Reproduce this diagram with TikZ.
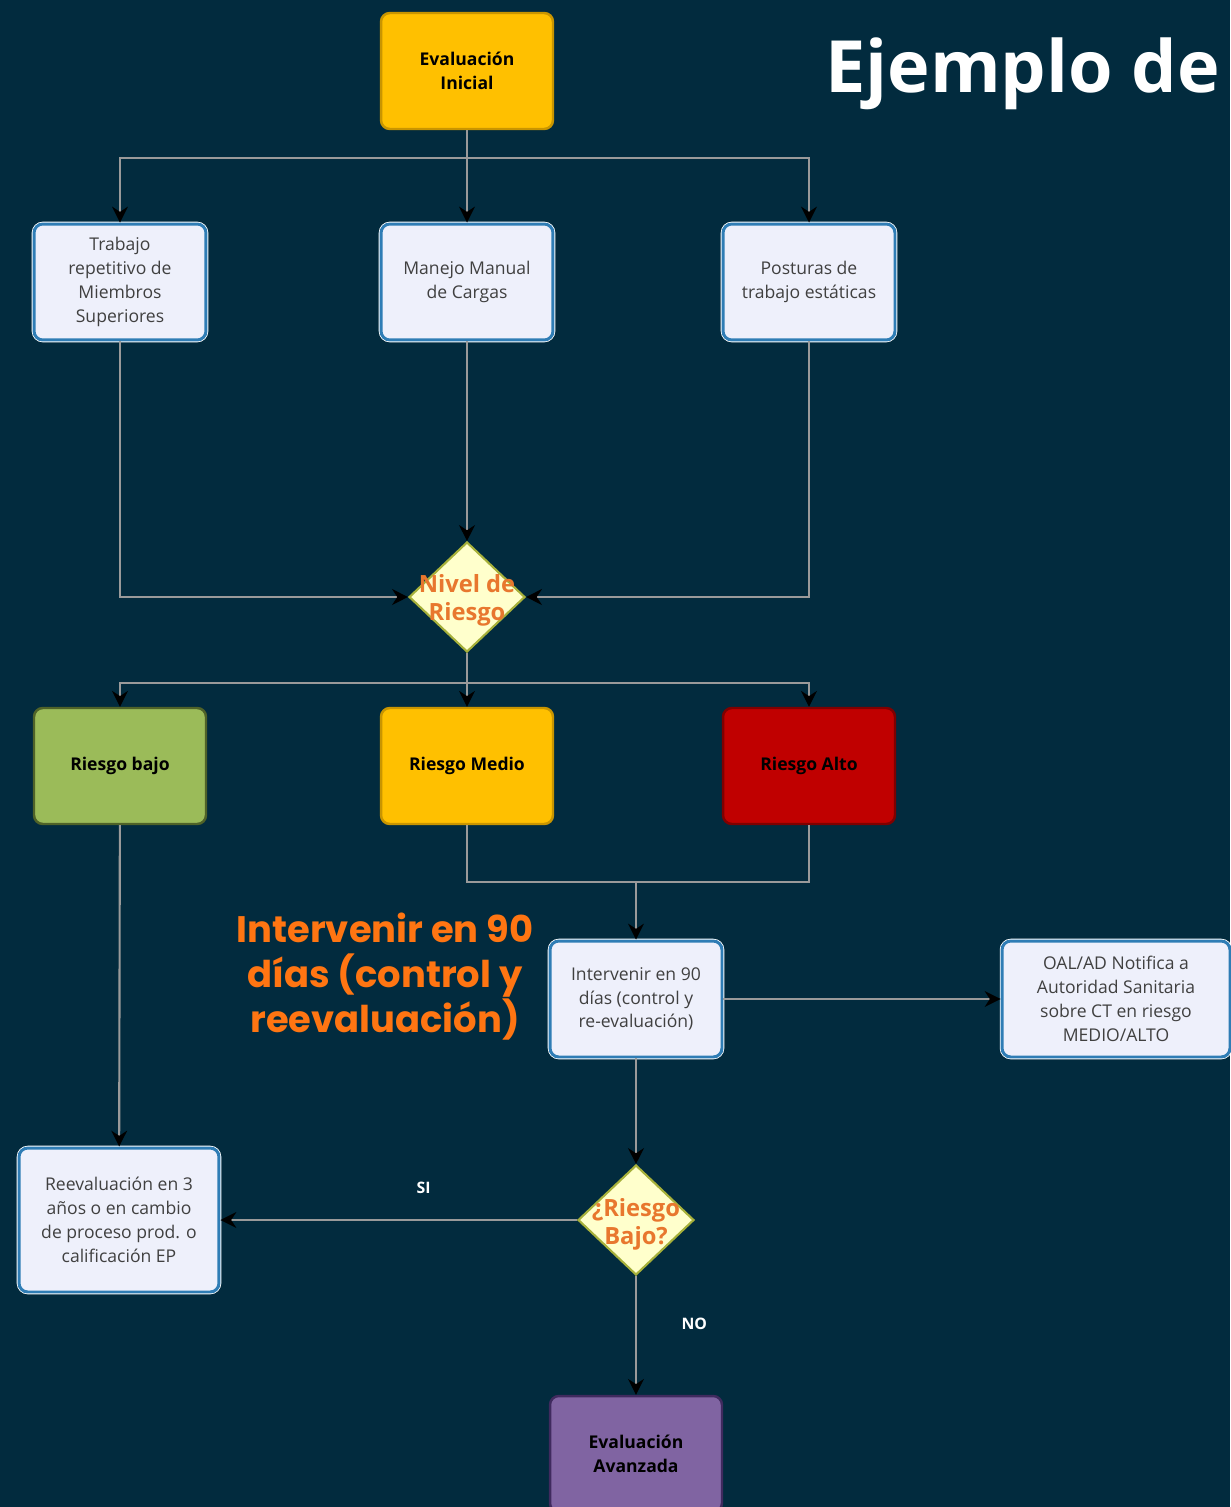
\documentclass[tikz,border=0pt]{standalone}
\usepackage{fontspec}
\setmainfont{Open Sans}
\newfontfamily\rotulofont{Poppins}
\usepackage{tikz}
\usetikzlibrary{shapes.geometric,arrows.meta}

\definecolor{fondo}{HTML}{022B3E}
\definecolor{cajafondo}{HTML}{EEF0FB}
\definecolor{cajaborde}{HTML}{2F7DB5}
\definecolor{textogris}{HTML}{404040}
\definecolor{amarillo}{HTML}{FFC000}
\definecolor{amarilloborde}{HTML}{C99500}
\definecolor{verde}{HTML}{9BBB59}
\definecolor{verdeborde}{HTML}{4F6228}
\definecolor{rojo}{HTML}{C00000}
\definecolor{rojoborde}{HTML}{7F0000}
\definecolor{morado}{HTML}{8064A2}
\definecolor{moradoborde}{HTML}{3F2A5E}
\definecolor{rombofondo}{HTML}{FFFFCC}
\definecolor{romboborde}{HTML}{A6B03A}
\definecolor{naranja}{HTML}{E8772E}
\definecolor{naranjarotulo}{HTML}{FF7512}
\definecolor{linea}{HTML}{9A9A9A}

\begin{document}
\begin{tikzpicture}[x=0.02cm, y=-0.02cm,
                    every node/.style={align=center},
                    base/.style={rectangle, rounded corners=5pt, line width=1.4pt,
                                 minimum width=3.44cm, minimum height=2.32cm, inner sep=2pt,
                                 font=\fontsize{10}{13.6}\selectfont},
                    caja/.style={base, draw=cajaborde, fill=cajafondo, text=textogris,
                                 line width=1.7pt, preaction={draw=white, line width=2.6pt}},
                    etapa/.style={base, font=\fontsize{10}{13.6}\selectfont\bfseries, text=black},
                    rombo/.style={diamond, aspect=1, draw=romboborde, fill=rombofondo,
                                  line width=1.2pt, minimum width=2.32cm, minimum height=2.2cm,
                                  inner sep=0pt},
                    rombotxt/.style={text=naranja, font=\fontsize{13.5}{15.9}\selectfont\bfseries},
                    linea/.style={draw=linea, line width=1.2pt},
                    flecha/.style={linea, -{Stealth[color=black, length=9pt, width=9pt]}},
                    sino/.style={text=white, font=\fontsize{9}{11}\selectfont\bfseries}]
  \fill[fondo] (0,0) rectangle (1230,1507);
  \useasboundingbox (0,0) rectangle (1230,1507);

  % titulo y nota
  \node[text=white, font=\fontsize{41}{48}\selectfont\bfseries, anchor=base west, inner sep=0pt]
    (titulo) at (825,93) {Ejemplo de};
  \node[text=naranjarotulo, font=\rotulofont\fontsize{21}{25.6}\selectfont\bfseries]
    (nota) at (385,977) {Intervenir en 90\\días (control y\\reevaluación)};

  % evaluacion inicial y factores
  \node[etapa, fill=amarillo, draw=amarilloborde] (inicial) at (467,71) {Evaluación\\Inicial};
  \node[caja] (trabajo) at (120,282) {Trabajo\\repetitivo de\\Miembros\\Superiores};
  \node[caja] (manejo) at (467,282) {Manejo Manual\\de Cargas};
  \node[caja] (posturas) at (809,282) {Posturas de\\trabajo estáticas};

  \node[rombo] (nivel) at (467,597) {};
  \node[rombotxt] (nivel-t) at (467,600) {Nivel de\\Riesgo};

  % niveles de riesgo
  \node[etapa, fill=verde, draw=verdeborde] (bajo) at (120,766) {Riesgo bajo};
  \node[etapa, fill=amarillo, draw=amarilloborde] (medio) at (467,766) {Riesgo Medio};
  \node[etapa, fill=rojo, draw=rojoborde] (alto) at (809,766) {Riesgo Alto};

  \node[caja] (intervenir) at (636,999) {Intervenir en 90\\días (control y\\re-evaluación)};
  \node[caja, minimum width=4.56cm] (oal) at (1116,999)
    {OAL/AD Notifica a\\Autoridad Sanitaria\\sobre CT en riesgo\\MEDIO/ALTO};
  \node[caja, minimum width=4cm, minimum height=2.88cm] (reeval) at (119,1220)
    {Reevaluación en 3\\años o en cambio\\de proceso prod. o\\calificación EP};

  \node[rombo] (rbajo) at (636,1220) {};
  \node[rombotxt] (rbajo-t) at (636,1224) {¿Riesgo\\Bajo?};

  \node[etapa, fill=morado, draw=moradoborde] (avanzada) at (636,1454) {Evaluación\\Avanzada};

  % conectores
  \coordinate (r1) at (467,158);
  \coordinate (r2) at (467,683);
  \coordinate (r3) at (636,882);

  \draw[linea] (inicial) -- (r1);
  \draw[flecha] (r1) -| (trabajo);
  \draw[flecha] (r1) -- (manejo);
  \draw[flecha] (r1) -| (posturas);

  \draw[flecha] (trabajo) |- (nivel);
  \draw[flecha] (manejo) -- (nivel);
  \draw[flecha] (posturas) |- (nivel);

  \draw[linea] (nivel) -- (r2);
  \draw[flecha] (r2) -| (bajo);
  \draw[flecha] (r2) -- (medio);
  \draw[flecha] (r2) -| (alto);

  \draw[linea] (medio.south) |- (r3);
  \draw[linea] (alto.south) |- (r3);
  \draw[flecha] (r3) -- (intervenir);
  \draw[flecha] (intervenir) -- (oal);
  \draw[flecha] (intervenir) -- (rbajo);
  \draw[flecha] (bajo) -- (reeval);

  \draw[flecha] (rbajo) -- node[sino, above=11pt, pos=0.43] (si) {SI} (reeval);
  \draw[flecha] (rbajo) -- node[sino, right=22pt, pos=0.4] (no) {NO} (avanzada);
\end{tikzpicture}
\end{document}
